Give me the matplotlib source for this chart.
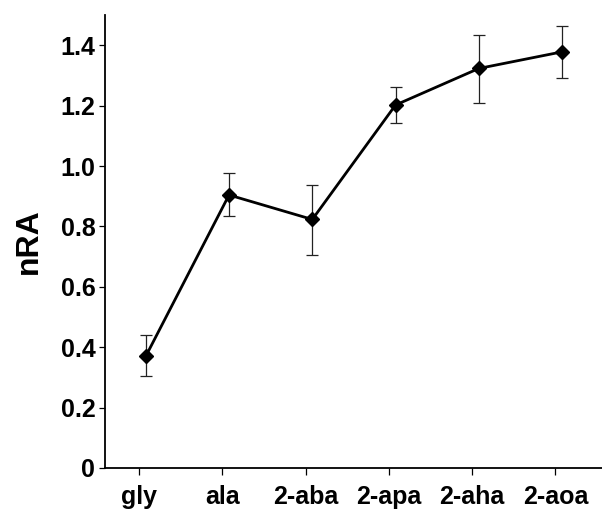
import numpy as np
import matplotlib
matplotlib.use("Agg")
import matplotlib.pyplot as plt

# data
categories = ["gly", "ala", "2-aba", "2-apa", "2-aha", "2-aoa"]
nra = [0.370, 0.904, 0.823, 1.202, 1.323, 1.378]
err_low = [0.066, 0.071, 0.119, 0.061, 0.116, 0.088]
err_high = [0.070, 0.073, 0.114, 0.058, 0.111, 0.086]
yticks = [0, 0.2, 0.4, 0.6, 0.8, 1.0, 1.2, 1.4]
ytick_labels = ["0", "0.2", "0.4", "0.6", "0.8", "1.0", "1.2", "1.4"]

plt.rcParams['font.family'] = ['Liberation Sans', 'DejaVu Sans']
plt.rcParams['font.weight'] = 'bold'

fig = plt.figure(figsize=(6.02, 5.09), dpi=100)
ax = fig.add_axes([0.1744, 0.0806, 0.8256, 0.8899])

x = np.arange(len(categories))
offset = 0.08  # points sit a little right of the ticks in the original

ax.errorbar(x + offset, nra, yerr=[err_low, err_high], color='black',
            linewidth=2.0, marker='D', markersize=7.5, elinewidth=0.9,
            capsize=4, capthick=0.9, ecolor='#222222')

ax.set_xlim(-0.41, 5.56)
ax.set_ylim(0, 1.5)
ax.set_xticks(x)
ax.set_xticklabels(categories, fontsize=18, fontweight='bold')
ax.set_yticks(yticks)
ax.set_yticklabels(ytick_labels, fontsize=18, fontweight='bold')
ax.set_ylabel("nRA", fontsize=23, fontweight='bold', labelpad=12)

ax.spines['top'].set_visible(False)
ax.spines['right'].set_visible(False)
for s in ['left', 'bottom']:
    ax.spines[s].set_linewidth(1.3)
ax.tick_params(axis='y', direction='out', length=4, width=0.9, pad=3)
ax.tick_params(axis='x', direction='out', length=5, width=0.9, pad=7)

fig.savefig("out.png", dpi=100)
